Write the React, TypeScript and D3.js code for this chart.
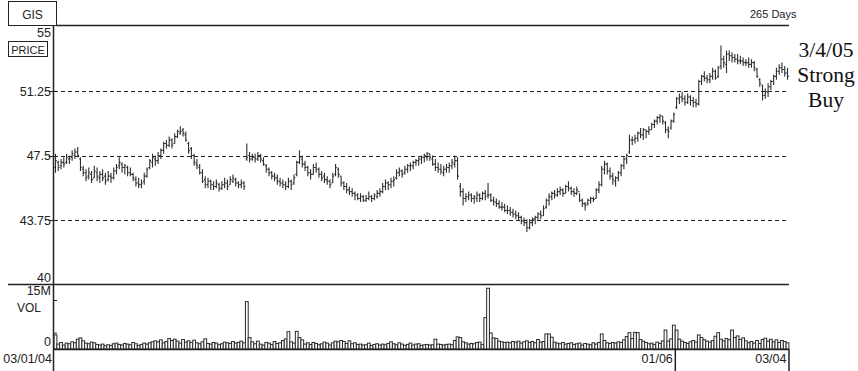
import React from "react";
import * as d3 from "d3";

const priceTicks = [40, 43.75, 47.5, 51.25, 55];
const priceTickLabels = ["40", "43.75", "47.5", "51.25", "55"];
const gridTicks = [43.75, 47.5, 51.25];
const dateTicks = [223, 264];
const dateTickLabels = ["01/06", "03/04"];
const noteLines = ["3/4/05", "Strong", "Buy"];

const highs = [
  47.6, 47.2, 47.3, 47.4, 47.6, 47.5, 47.8, 47.9, 48.0, 47.4,
  46.9, 46.7, 46.8, 46.6, 46.9, 46.8, 46.6, 46.7, 46.5, 46.6,
  46.5, 46.8, 47.0, 47.4, 47.1, 47.0, 46.9, 46.8, 46.5, 46.3,
  46.2, 46.1, 46.5, 46.8, 47.3, 47.6, 47.5, 47.7, 47.9, 48.3,
  48.4, 48.6, 48.5, 48.8, 49.0, 49.2, 49.1, 48.9, 48.3, 48.0,
  47.6, 47.3, 47.0, 46.7, 46.3, 46.2, 46.1, 46.0, 46.1, 45.9,
  46.0, 46.2, 46.1, 46.3, 46.4, 46.2, 46.0, 46.1, 46.0, 48.2,
  47.7, 47.6, 47.6, 47.7, 47.6, 47.4, 47.0, 46.8, 46.6, 46.5,
  46.4, 46.2, 46.1, 46.0, 46.2, 46.1, 46.4, 47.2, 47.8, 47.5,
  47.2, 46.9, 46.7, 47.0, 47.1, 46.8, 46.6, 46.5, 46.3, 46.1,
  46.5, 47.0, 46.8, 46.3, 46.0, 45.9, 45.7, 45.6, 45.4, 45.3,
  45.3, 45.2, 45.2, 45.4, 45.2, 45.3, 45.5, 45.6, 45.9, 46.1,
  46.0, 46.2, 46.3, 46.7, 46.8, 46.7, 46.9, 47.0, 47.1, 47.2,
  47.3, 47.4, 47.5, 47.6, 47.7, 47.6, 47.5, 47.3, 47.1, 47.0,
  46.9, 47.0, 47.1, 47.3, 47.5, 47.4, 45.9, 45.6, 45.3, 45.4,
  45.3, 45.2, 45.4, 45.3, 45.4, 45.5, 45.9, 45.3, 45.1, 45.0,
  44.9, 44.8, 44.7, 44.6, 44.5, 44.4, 44.3, 44.2, 44.0, 43.9,
  43.8, 43.8, 43.9, 44.0, 44.2, 44.3, 44.6, 45.0, 45.3, 45.4,
  45.5, 45.6, 45.7, 45.6, 45.8, 46.0, 45.7, 45.6, 45.7, 45.3,
  45.0, 44.8, 45.0, 45.1, 45.1, 45.6, 46.0, 46.9, 47.2, 47.1,
  46.8, 46.5, 46.3, 46.6, 47.0, 47.4, 47.6, 48.7, 48.6, 48.7,
  48.9, 49.1, 49.1, 49.0, 49.2, 49.4, 49.6, 49.8, 49.9, 49.8,
  49.5, 49.2, 49.6, 50.0, 50.9, 51.1, 51.2, 51.0, 51.1, 51.0,
  50.9, 50.8, 51.9, 52.2, 52.4, 52.2, 52.3, 52.6, 52.5, 52.7,
  53.9, 53.3, 53.6, 53.6, 53.5, 53.4, 53.4, 53.3, 53.2, 53.1,
  53.2, 53.1, 53.0, 52.6, 52.0, 51.6, 51.4, 51.7, 51.9, 52.2,
  52.6, 52.8, 52.9, 52.7, 52.6,
];

const lows = [
  46.5, 46.6, 46.7, 46.8, 47.0, 47.0, 47.2, 47.3, 47.4, 46.6,
  46.3, 46.0, 46.1, 45.9, 46.2, 46.0, 45.9, 46.0, 45.8, 46.0,
  45.9, 46.1, 46.4, 46.7, 46.5, 46.4, 46.3, 46.3, 46.0, 45.7,
  45.6, 45.6, 45.8, 46.2, 46.7, 46.8, 46.9, 47.0, 47.3, 47.6,
  47.9, 48.0, 47.9, 48.2, 48.5, 48.7, 48.6, 48.3, 47.6, 47.3,
  46.9, 46.7, 46.4, 45.9, 45.6, 45.6, 45.5, 45.5, 45.6, 45.4,
  45.5, 45.6, 45.5, 45.8, 45.9, 45.7, 45.6, 45.6, 45.5, 47.2,
  47.1, 47.2, 47.1, 47.2, 47.1, 46.9, 46.5, 46.3, 46.1, 46.0,
  45.8, 45.7, 45.6, 45.5, 45.6, 45.5, 45.8, 46.3, 47.0, 46.8,
  46.6, 46.3, 46.1, 46.4, 46.5, 46.2, 46.0, 45.9, 45.8, 45.6,
  45.9, 46.3, 46.2, 45.7, 45.5, 45.3, 45.2, 45.1, 44.9, 44.9,
  44.8, 44.8, 44.8, 44.9, 44.8, 44.9, 45.0, 45.1, 45.3, 45.5,
  45.5, 45.6, 45.7, 46.1, 46.3, 46.2, 46.4, 46.5, 46.6, 46.7,
  46.9, 46.9, 47.0, 47.1, 47.2, 47.2, 46.9, 46.6, 46.5, 46.4,
  46.3, 46.5, 46.5, 46.7, 46.8, 46.1, 45.1, 44.6, 44.8, 44.9,
  44.8, 44.7, 44.8, 44.8, 44.9, 44.9, 45.0, 44.8, 44.6, 44.5,
  44.4, 44.3, 44.2, 44.1, 44.0, 43.9, 43.8, 43.7, 43.5, 43.4,
  43.05, 43.2, 43.4, 43.5, 43.7, 43.8, 44.0, 44.4, 44.6, 44.9,
  45.0, 45.1, 45.2, 45.1, 45.3, 45.4, 45.2, 45.1, 45.2, 44.8,
  44.5, 44.3, 44.6, 44.7, 44.8, 45.0, 45.3, 45.7, 46.4, 46.4,
  46.1, 45.8, 45.7, 46.0, 46.3, 46.7, 47.0, 47.6, 48.1, 48.2,
  48.3, 48.5, 48.4, 48.5, 48.7, 49.0, 49.1, 49.3, 49.4, 49.3,
  48.8, 48.5, 49.0, 49.4, 50.2, 50.5, 50.6, 50.4, 50.5, 50.4,
  50.3, 50.3, 50.4, 51.6, 51.8, 51.7, 51.7, 51.9, 51.9, 52.0,
  52.5, 52.6, 52.3, 53.0, 52.9, 52.9, 52.8, 52.8, 52.7, 52.7,
  52.6, 52.6, 52.4, 52.0, 51.5, 50.7, 50.8, 50.9, 51.3, 51.6,
  51.9, 52.2, 52.3, 52.1, 51.9,
];

const opens = [
  46.8, 47.1, 46.9, 47.1, 47.1, 47.3, 47.4, 47.5, 47.7, 47.3,
  46.7, 46.5, 46.3, 46.4, 46.2, 46.5, 46.2, 46.4, 46.3, 46.1,
  46.3, 46.2, 46.6, 46.9, 47.0, 46.8, 46.8, 46.5, 46.4, 46.1,
  45.9, 45.8, 46.0, 46.3, 46.8, 47.1, 47.3, 47.2, 47.5, 47.8,
  48.2, 48.1, 48.4, 48.2, 48.6, 48.8, 49.0, 48.7, 48.2, 47.9,
  47.5, 47.0, 46.8, 46.5, 46.1, 45.8, 46.0, 45.8, 45.7, 45.8,
  45.6, 45.8, 45.9, 45.8, 46.0, 46.1, 45.9, 45.8, 45.9, 47.3,
  47.5, 47.3, 47.4, 47.3, 47.5, 47.2, 46.9, 46.7, 46.5, 46.3,
  46.2, 46.0, 45.9, 45.8, 45.7, 46.0, 45.9, 46.4, 47.1, 47.3,
  47.0, 46.8, 46.5, 46.4, 46.8, 46.7, 46.4, 46.3, 46.1, 46.0,
  45.9, 46.4, 46.7, 46.3, 45.9, 45.7, 45.5, 45.4, 45.3, 45.2,
  45.0, 45.1, 44.9, 45.0, 45.1, 45.0, 45.1, 45.3, 45.4, 45.7,
  45.9, 45.8, 46.0, 46.2, 46.5, 46.6, 46.5, 46.7, 46.9, 46.9,
  47.1, 47.2, 47.3, 47.4, 47.4, 47.6, 47.3, 47.0, 46.8, 46.7,
  46.5, 46.7, 46.8, 46.9, 47.0, 47.2, 45.7, 45.4, 45.0, 45.1,
  45.2, 45.0, 45.0, 45.2, 45.0, 45.3, 45.2, 45.2, 44.9, 44.8,
  44.7, 44.5, 44.5, 44.3, 44.3, 44.2, 44.1, 44.0, 43.9, 43.7,
  43.6, 43.3, 43.6, 43.8, 43.9, 44.1, 44.0, 44.5, 44.9, 45.1,
  45.3, 45.2, 45.4, 45.5, 45.3, 45.7, 45.6, 45.4, 45.3, 45.4,
  44.9, 44.7, 44.7, 44.9, 45.0, 45.0, 45.5, 45.8, 46.7, 47.0,
  46.6, 46.3, 46.0, 46.2, 46.5, 46.9, 47.3, 47.7, 48.4, 48.4,
  48.5, 48.8, 48.7, 49.0, 48.9, 49.0, 49.3, 49.5, 49.7, 49.8,
  49.4, 49.0, 49.1, 49.5, 50.3, 50.8, 50.9, 50.8, 50.6, 50.9,
  50.7, 50.6, 50.5, 51.8, 52.1, 52.0, 51.9, 52.1, 52.4, 52.1,
  52.7, 53.1, 52.8, 53.4, 53.3, 53.2, 53.1, 53.0, 53.0, 52.9,
  52.9, 52.8, 52.9, 52.5, 51.9, 51.6, 51.0, 51.2, 51.5, 51.8,
  52.1, 52.4, 52.6, 52.5, 52.3,
];

const closes = [
  47.2, 46.8, 47.1, 47.0, 47.4, 47.3, 47.6, 47.7, 47.5, 46.8,
  46.5, 46.2, 46.5, 46.1, 46.6, 46.3, 46.4, 46.2, 46.0, 46.3,
  46.2, 46.6, 46.8, 47.1, 46.8, 46.9, 46.5, 46.4, 46.2, 45.9,
  45.8, 45.9, 46.3, 46.7, 47.2, 47.4, 47.2, 47.5, 47.8, 48.2,
  48.1, 48.4, 48.1, 48.6, 48.9, 48.9, 48.8, 48.4, 47.8, 47.5,
  47.1, 46.9, 46.5, 46.0, 45.8, 46.0, 45.8, 45.7, 45.9, 45.6,
  45.8, 45.9, 45.7, 46.1, 46.2, 45.9, 45.8, 45.9, 45.7, 47.4,
  47.3, 47.4, 47.3, 47.5, 47.3, 47.0, 46.7, 46.5, 46.3, 46.2,
  46.0, 45.9, 45.8, 45.7, 46.0, 45.8, 46.2, 47.1, 47.4, 47.0,
  46.8, 46.5, 46.4, 46.8, 46.7, 46.4, 46.2, 46.1, 46.0, 45.8,
  46.3, 46.8, 46.4, 45.9, 45.7, 45.5, 45.4, 45.3, 45.2, 45.0,
  45.1, 44.9, 45.0, 45.1, 45.0, 45.2, 45.3, 45.4, 45.7, 45.9,
  45.8, 46.0, 46.1, 46.5, 46.6, 46.4, 46.7, 46.9, 46.9, 47.1,
  47.2, 47.3, 47.4, 47.5, 47.6, 47.4, 47.0, 46.8, 46.7, 46.6,
  46.7, 46.8, 46.9, 47.1, 47.2, 46.3, 45.4, 45.0, 45.1, 45.2,
  45.0, 45.1, 45.2, 45.0, 45.3, 45.1, 45.2, 44.9, 44.8, 44.7,
  44.5, 44.5, 44.3, 44.3, 44.2, 44.1, 44.0, 43.9, 43.7, 43.6,
  43.3, 43.6, 43.8, 43.9, 44.1, 44.0, 44.4, 44.9, 45.1, 45.3,
  45.2, 45.4, 45.5, 45.3, 45.7, 45.6, 45.4, 45.3, 45.5, 44.9,
  44.7, 44.6, 44.9, 45.0, 44.95, 45.5, 45.8, 46.7, 47.0, 46.6,
  46.3, 46.1, 46.2, 46.5, 46.9, 47.3, 47.5, 48.4, 48.4, 48.5,
  48.8, 48.7, 49.0, 48.9, 49.0, 49.3, 49.5, 49.7, 49.8, 49.5,
  49.0, 48.9, 49.5, 49.9, 50.8, 50.9, 50.8, 50.6, 50.9, 50.7,
  50.6, 50.5, 51.8, 52.1, 52.0, 51.9, 52.1, 52.4, 52.0, 52.6,
  53.1, 52.9, 53.4, 53.3, 53.2, 53.1, 53.0, 53.0, 52.9, 52.9,
  52.8, 52.9, 52.6, 52.1, 51.7, 51.0, 51.2, 51.5, 51.8, 52.1,
  52.4, 52.6, 52.5, 52.3, 52.1,
];

const volumes = [
  4.3, 1.5, 2.0, 1.2, 1.8, 1.6, 2.2, 1.9, 3.0, 3.4,
  2.5, 1.8, 1.6, 2.1, 1.9, 1.4, 1.2, 1.5, 1.0, 1.3,
  1.1, 1.6, 1.8, 1.4, 1.2, 1.7, 1.5, 1.3, 2.0, 1.6,
  1.1, 1.4, 1.8, 1.5, 1.9, 2.2, 2.5, 2.2, 2.8, 1.9,
  2.3, 3.2, 2.6, 3.0, 2.4, 1.8, 2.9, 2.1, 2.5, 2.0,
  2.7, 1.9, 1.6, 2.2, 3.1, 1.7, 1.5, 2.0, 1.8, 1.3,
  1.6, 2.1, 1.9, 1.7, 2.3, 1.8, 2.0, 2.4, 1.9, 14.5,
  3.5, 2.2, 1.6, 2.4, 1.5, 1.2, 2.0, 1.8, 1.4, 2.3,
  1.7, 1.9, 2.6, 3.1, 5.3, 2.2, 1.8, 5.4, 3.5, 2.8,
  1.5, 1.9, 1.4, 2.0, 1.7, 1.3, 1.6, 2.1, 1.8, 1.2,
  1.9, 2.4, 2.2, 2.6, 2.3, 1.7, 2.5, 1.6, 1.9, 1.4,
  1.5, 1.2, 1.3, 1.8, 1.1, 1.4, 1.6, 1.2, 1.5, 1.3,
  1.7, 2.2, 1.6, 1.3, 1.9, 1.5, 1.1, 1.4, 1.8, 1.2,
  1.5, 1.6, 1.1, 1.3, 1.4, 1.2, 1.3, 3.0, 1.5, 1.4,
  1.2, 1.4, 1.5, 1.3, 2.6, 3.7, 3.5, 2.2, 1.9, 1.5,
  1.7, 1.6, 2.0, 2.1, 1.4, 9.6, 18.6, 4.9, 3.4, 3.2,
  2.4, 2.2, 2.0, 2.1, 1.9, 2.3, 2.1, 2.4, 1.8, 2.2,
  2.5, 2.0, 2.3, 1.9, 2.9, 2.1, 2.3, 4.6, 4.6, 3.6,
  2.1, 1.8, 1.6, 2.0, 1.5, 1.7, 1.9, 1.4, 1.6, 1.8,
  1.2, 1.7, 1.5, 1.3, 1.9, 1.5, 2.0, 4.6, 2.6, 1.9,
  1.7, 2.0, 1.8, 2.2, 2.0, 2.8, 3.8, 5.0, 3.2, 5.1,
  5.0, 2.9, 2.4, 2.0, 1.6, 1.8, 1.4, 2.1, 1.7, 2.5,
  5.8, 2.4, 3.1, 7.3, 5.8, 3.0, 2.4, 2.0, 1.7, 2.2,
  2.6, 2.1, 4.3, 3.5, 2.8, 2.4, 2.1, 2.6, 3.9, 5.0,
  3.0, 2.5, 3.2, 2.8, 5.8, 3.5, 4.0, 2.9, 3.4, 2.5,
  1.9, 2.3, 1.8, 2.6, 1.7, 2.9, 3.3, 2.4, 3.0, 2.2,
  2.8, 2.0, 2.6, 2.3, 1.9,
];

const W = 858;
const H = 371;
const FONT = "'Liberation Sans', Arial, sans-serif";
const INK = "#222";

export default function App() {
  const n = closes.length;
  const x = d3.scaleLinear().domain([0, n - 1]).range([55.5, 787.5]);
  const yP = d3.scaleLinear().domain([40, 55]).range([284.5, 26.5]);
  const yV = d3.scaleLinear().domain([0, 15]).range([349, 300]);
  const step = x(1) - x(0);

  const barPath = closes
    .map((c, i) => {
      const cx = x(i);
      return `M${cx},${yP(highs[i])}V${yP(lows[i])}M${cx - 1.3},${yP(opens[i])}H${cx}M${cx},${yP(c)}H${cx + 1.3}`;
    })
    .join("");

  return (
    <div style={{ position: "fixed", left: 0, top: 0 }}>
      <svg width={W} height={H} style={{ display: "block", background: "#fff" }}>
        {/* header */}
        <rect x={8.5} y={1.5} width={48} height={24} fill="none" stroke={INK} strokeWidth={1} />
        <text x={32.5} y={19} textAnchor="middle" fontFamily={FONT} fontSize={12} fill={INK}>GIS</text>
        <line x1={56.5} x2={789} y1={25.5} y2={25.5} stroke={INK} strokeWidth={1.5} />
        <text x={750} y={18} fontFamily={FONT} fontSize={11} fill={INK}>265 Days</text>

        {/* price axis */}
        <line x1={53.5} x2={53.5} y1={25} y2={371} stroke={INK} strokeWidth={1.5} />
        <rect x={8.5} y={41.5} width={39} height={15} fill="none" stroke={INK} strokeWidth={1} />
        <text x={28} y={53.5} textAnchor="middle" fontFamily={FONT} fontSize={11} fill={INK}>PRICE</text>
        {priceTicks.map((t, i) => (
          <g key={t}>
            <text
              x={51}
              y={t === 40 ? yP(t) - 3 : t === 55 ? yP(t) + 10 : yP(t) + 4.5}
              textAnchor="end"
              fontFamily={FONT}
              fontSize={12.5}
              fill={INK}
            >
              {priceTickLabels[i]}
            </text>
            {t !== 40 && t !== 55 && (
              <line x1={48.5} x2={53.5} y1={Math.round(yP(t)) + 0.5} y2={Math.round(yP(t)) + 0.5} stroke={INK} />
            )}
          </g>
        ))}
        {gridTicks.map((t) => (
          <line
            key={t}
            x1={54}
            x2={789}
            y1={Math.round(yP(t)) + 0.5}
            y2={Math.round(yP(t)) + 0.5}
            stroke={INK}
            strokeWidth={1}
            strokeDasharray="4,3"
          />
        ))}
        <line x1={8} x2={789} y1={284.5} y2={284.5} stroke={INK} strokeWidth={1.5} />

        {/* OHLC bars */}
        <path d={barPath} fill="none" stroke="#2e2e2e" strokeWidth={1.1} />

        {/* volume */}
        <text x={51} y={295} textAnchor="end" fontFamily={FONT} fontSize={12.5} fill={INK}>15M</text>
        <text x={17} y={312} fontFamily={FONT} fontSize={12} fill={INK}>VOL</text>
        <text x={51} y={346} textAnchor="end" fontFamily={FONT} fontSize={12.5} fill={INK}>0</text>
        <line x1={53.5} x2={57} y1={yV(15) + 0.5} y2={yV(15) + 0.5} stroke={INK} />
        <line x1={53.5} x2={57} y1={yV(5) + 0.5} y2={yV(5) + 0.5} stroke={INK} />
        {volumes.map((v, i) => (
          <rect
            key={i}
            x={x(i) - step / 2}
            y={yV(v)}
            width={step}
            height={yV(0) - yV(v)}
            fill="#fff"
            stroke="#2a2a2a"
            strokeWidth={1}
          />
        ))}
        <line x1={53} x2={789} y1={349.5} y2={349.5} stroke={INK} strokeWidth={1.5} />

        {/* date axis */}
        <text x={52} y={363} textAnchor="end" fontFamily={FONT} fontSize={12.5} fill={INK}>03/01/04</text>
        {dateTicks.map((d, i) => (
          <g key={d}>
            <line x1={x(d) + 1.5} x2={x(d) + 1.5} y1={349} y2={371} stroke={INK} strokeWidth={1.5} />
            <text x={x(d) - 1} y={363} textAnchor="end" fontFamily={FONT} fontSize={12.5} fill={INK}>
              {dateTickLabels[i]}
            </text>
          </g>
        ))}

        {/* note */}
        {noteLines.map((s, i) => (
          <text
            key={s}
            x={826}
            y={57 + i * 25}
            textAnchor="middle"
            fontFamily="'Liberation Serif', 'Times New Roman', serif"
            fontSize={21.5}
            fill="#111"
          >
            {s}
          </text>
        ))}
      </svg>
    </div>
  );
}
